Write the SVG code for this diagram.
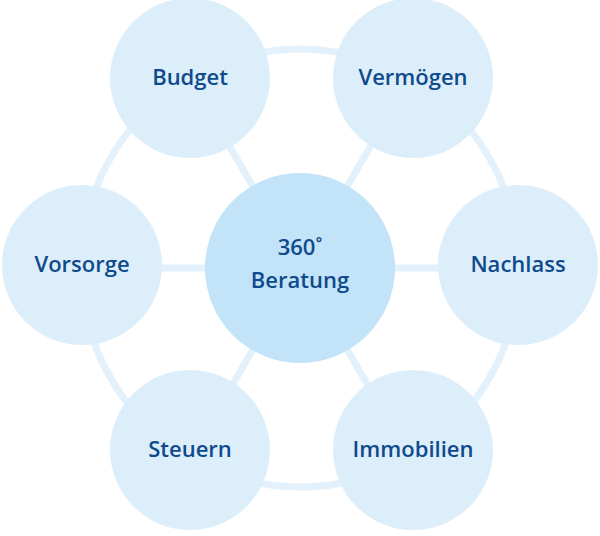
<svg xmlns="http://www.w3.org/2000/svg" width="600" height="536" viewBox="0 0 600 536">
<style>
.c{fill:#ddeefb}
.l{stroke:#e3f1fc;stroke-width:7;fill:none}
text{font-family:"Open Sans","Liberation Sans",sans-serif;font-size:22px;font-weight:600;fill:#0f4a8c;text-anchor:middle}
</style>
<rect width="600" height="536" fill="#fff"/>
<g id="connectors">
<circle class="l" cx="300" cy="268" r="219"/>
<line class="l" x1="190" y1="78" x2="410" y2="458"/>
<line class="l" x1="410" y1="78" x2="190" y2="458"/>
<line class="l" x1="82" y1="268" x2="518" y2="268"/>
</g>
<g id="budget"><circle class="c" cx="190" cy="78" r="80"/><text x="190" y="85">Budget</text></g>
<g id="vermoegen"><circle class="c" cx="413" cy="78" r="80"/><text x="413" y="85">Vermögen</text></g>
<g id="vorsorge"><circle class="c" cx="82" cy="265" r="80"/><text x="82" y="272">Vorsorge</text></g>
<g id="nachlass"><circle class="c" cx="518" cy="265" r="80"/><text x="518" y="272">Nachlass</text></g>
<g id="steuern"><circle class="c" cx="190" cy="450" r="80"/><text x="190" y="457">Steuern</text></g>
<g id="immobilien"><circle class="c" cx="413" cy="450" r="80"/><text x="413" y="457">Immobilien</text></g>
<g id="center"><circle cx="300" cy="268" r="95" fill="#c2e3f8"/><text x="300" y="255">360˚</text><text x="300" y="288">Beratung</text></g>
</svg>
